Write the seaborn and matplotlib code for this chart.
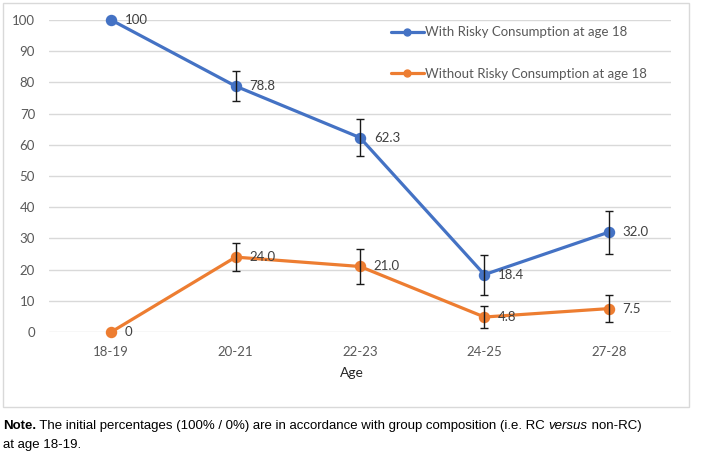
import numpy as np
import pandas as pd
import seaborn as sns
import matplotlib.pyplot as plt
from matplotlib.lines import Line2D
from matplotlib.patches import Rectangle

# data
ages = ["18-19", "20-21", "22-23", "24-25", "27-28"]
with_rc = [100, 78.8, 62.3, 18.4, 32.0]
without_rc = [0, 24.0, 21.0, 4.8, 7.5]
with_err = [np.nan, 4.8, 5.9, 6.4, 6.9]
without_err = [np.nan, 4.6, 5.5, 3.6, 4.2]
with_lbl = ["100", "78.8", "62.3", "18.4", "32.0"]
without_lbl = ["0", "24.0", "21.0", "4.8", "7.5"]
series = ["With Risky Consumption at age 18", "Without Risky Consumption at age 18"]
colors = {series[0]: "#4472C4", series[1]: "#ED7D31"}

df = pd.DataFrame({"Age": ages * 2,
                   "value": with_rc + without_rc,
                   "group": [series[0]] * 5 + [series[1]] * 5})

sns.set_theme(style="white")
plt.rcParams['font.family'] = ['Lato', 'DejaVu Sans']

fig = plt.figure(figsize=(7.18, 4.63), dpi=100)
ax = fig.add_axes([49/718, 1-332/463, 622/718, 312/463])

sns.pointplot(data=df, x="Age", y="value", hue="group", palette=colors,
              errorbar=None, markers="o", markersize=6.5, linewidth=2.3,
              ax=ax, legend=False)
for l in ax.lines:
    l.set_clip_on(False)
    l.set_zorder(3)

pos = np.arange(len(ages))
ax.errorbar(pos, with_rc, yerr=with_err, fmt="none", ecolor="#1a1a1a",
            elinewidth=1, capsize=3, capthick=1, zorder=4)
ax.errorbar(pos, without_rc, yerr=without_err, fmt="none", ecolor="#1a1a1a",
            elinewidth=1, capsize=3, capthick=1, zorder=4)

for i in range(len(ages)):
    ax.annotate(with_lbl[i], (pos[i], with_rc[i]), xytext=(10, 0),
                textcoords="offset points", va="center", ha="left",
                fontsize=9.5, color="#404040")
    ax.annotate(without_lbl[i], (pos[i], without_rc[i]), xytext=(10, 0),
                textcoords="offset points", va="center", ha="left",
                fontsize=9.5, color="#404040")

ax.set_xlim(-0.5, 4.5)
ax.set_ylim(0, 100)
ax.set_yticks(range(0, 101, 10))
ax.yaxis.grid(True, color="#d9d9d9", linewidth=1)
ax.set_axisbelow(True)
for s in ax.spines.values():
    s.set_visible(False)
ax.tick_params(axis="both", length=0, labelsize=9.5, labelcolor="#595959", pad=10)
ax.set_ylabel("")
ax.set_xlabel("Age", fontsize=10, color="#262626")
ax.xaxis.set_label_coords(0.487, -0.131)
ax.xaxis.label.set_va("center")

handles = [Line2D([], [], color=colors[s], marker="o", markersize=5, linewidth=2.3) for s in series]
ax.legend(handles, series, loc="upper left", bbox_to_anchor=(330/622, 1.018),
          frameon=False, fontsize=9.5, labelspacing=2.25, handlelength=2.5,
          handletextpad=0.1, labelcolor="#595959")

# chart border
fig.patches.append(Rectangle((3/718, 1-407/463), 686/718, 404/463, transform=fig.transFigure,
                             fill=False, edgecolor="#d9d9d9", linewidth=1))

# note below the chart
fam = ['Liberation Sans']
fig.canvas.draw()
r = fig.canvas.get_renderer()
x = 3/718
y1 = 1-426/463
parts = [("Note.", "bold", "normal"),
         (" The initial percentages (100% / 0%) are in accordance with group composition (i.e. RC ", "normal", "normal"),
         ("versus", "normal", "italic"),
         (" non-RC)", "normal", "normal")]
for txt, w, st in parts:
    t = fig.text(x, y1, txt, fontsize=9.5, family=fam, weight=w, style=st,
                 va="center", ha="left", color="black")
    bb = t.get_window_extent(renderer=r)
    x += bb.width / fig.bbox.width
fig.text(3/718, 1-445/463, "at age 18-19.", fontsize=9.5, family=fam,
         va="center", ha="left", color="black")

fig.savefig("out.png", dpi=100)
